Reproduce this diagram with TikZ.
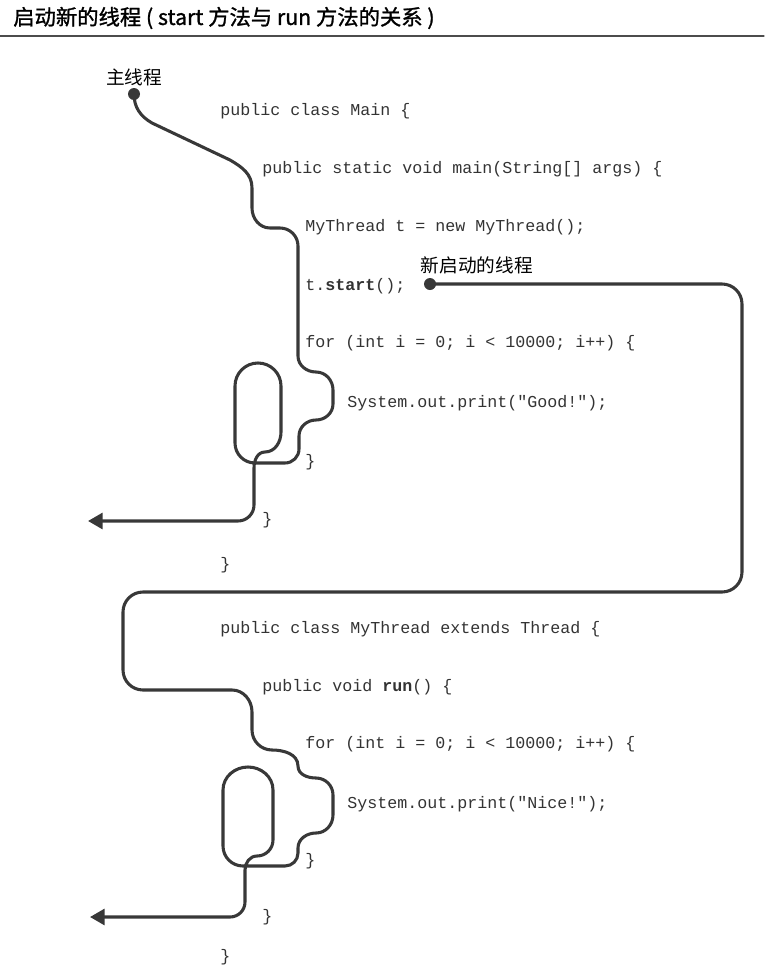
\documentclass[tikz,border=0pt]{standalone}
\usepackage{fontspec}
\setmainfont{Noto Sans CJK SC}
\setmonofont{Liberation Mono}
\newfontfamily\titlefont[FakeBold=1.2]{Noto Sans CJK SC}
\usetikzlibrary{arrows.meta}
\begin{document}
\begin{tikzpicture}[x=0.75pt, y=-0.75pt, line join=round, line cap=round,
	code/.style={anchor=mid west, inner sep=0pt, text=black!80, font=\ttfamily\fontsize{12.5}{15}\selectfont},
	thread/.style={line width=2.3pt, draw=black!78},
	lbl/.style={inner sep=0pt, font=\fontsize{14}{16}\selectfont},
	tip/.tip={Triangle[length=11pt, width=12pt]}]

	\useasboundingbox (0,0) rectangle (764,971);

	% Tiêu đề và đường kẻ ngang
	\node[anchor=west, inner sep=0pt, font=\titlefont\fontsize{16}{18}\selectfont] (title) at (13,18) {启动新的线程 ( start 方法与 run 方法的关系 )};
	\draw[line width=0.9pt, black!70] (0,36) -- (764,36);

	% Lớp Main
	\node[code] (m1) at (220,112) {public class Main \{};
	\node[code] (m2) at (262,170) {public static void main(String[] args) \{};
	\node[code] (m3) at (305,228) {MyThread t = new MyThread();};
	\node[code] (m4) at (305,287) {t.\textbf{start}();};
	\node[code] (m5) at (305,344) {for (int i = 0; i < 10000; i++) \{};
	\node[code] (m6) at (347,404) {System.out.print("Good!");};
	\node[code] (m7) at (305,463) {\}};
	\node[code] (m8) at (262,521) {\}};
	\node[code] (m9) at (220,566) {\}};

	% Lớp MyThread
	\node[code] (t1) at (220,630) {public class MyThread extends Thread \{};
	\node[code] (t2) at (262,688) {public void \textbf{run}() \{};
	\node[code] (t3) at (305,745) {for (int i = 0; i < 10000; i++) \{};
	\node[code] (t4) at (347,805) {System.out.print("Nice!");};
	\node[code] (t5) at (305,862) {\}};
	\node[code] (t6) at (262,918) {\}};
	\node[code] (t7) at (220,958) {\}};

	% Điểm bắt đầu của hai luồng
	\coordinate (M) at (134,94);
	\coordinate (N) at (430,284);

	% Luồng chính
	\draw[thread, -tip] (M) to[out=-90, in=150] (152,123) -- (230,160)
		to[out=-30, in=90] (252,188) -- (252,208) to[out=-90, in=180] (270,228) -- (280,228)
		to[out=0, in=90] (298,246) -- (298,356) to[out=-90, in=180] (316,372)
		to[out=0, in=90] (333,390) -- (333,404) to[out=-90, in=0] (316,420)
		to[out=180, in=90] (299,436) -- (299,449) to[out=-90, in=0] (285,463) -- (255,463)
		to[out=180, in=-90] (235,443) -- (235,386) to[out=90, in=180] (258,363)
		to[out=0, in=90] (281,386) -- (281,432) to[out=-90, in=0] (265,452)
		to[out=180, in=90] (254,468) -- (254,505) to[out=-90, in=0] (238,521) -- (88,521);

	% Luồng mới khởi động
	\draw[thread, -tip] (N) -- (722,284) to[out=0, in=90] (742,304) -- (742,572)
		to[out=-90, in=0] (722,592) -- (143,592) to[out=180, in=90] (123,612) -- (123,670)
		to[out=-90, in=180] (143,690) -- (232,690) to[out=0, in=90] (252,712) -- (252,730)
		to[out=-90, in=180] (272,750) to[out=0, in=90] (298,766) to[out=-90, in=180] (316,778)
		to[out=0, in=90] (333,795) -- (333,815) to[out=-90, in=0] (316,833)
		to[out=180, in=90] (298,848) -- (298,853) to[out=-90, in=0] (285,866) -- (243,866)
		to[out=180, in=-90] (223,846) -- (223,790) to[out=90, in=180] (248,767)
		to[out=0, in=90] (273,790) -- (273,840) to[out=-90, in=0] (257,856)
		to[out=180, in=90] (245,870) -- (245,902) to[out=-90, in=0] (230,917) -- (90,917);

	% Chấm tròn ở điểm đầu
	\foreach \point in {M, N} {
		\fill[black!78] (\point) circle (4.5pt);
	}

	% Nhãn
	\node[lbl, above, yshift=6pt] (mainlbl) at (M) {主线程};
	\node[lbl, anchor=south west, xshift=-7pt, yshift=7pt] (newlbl) at (N) {新启动的线程};

\end{tikzpicture}
\end{document}
